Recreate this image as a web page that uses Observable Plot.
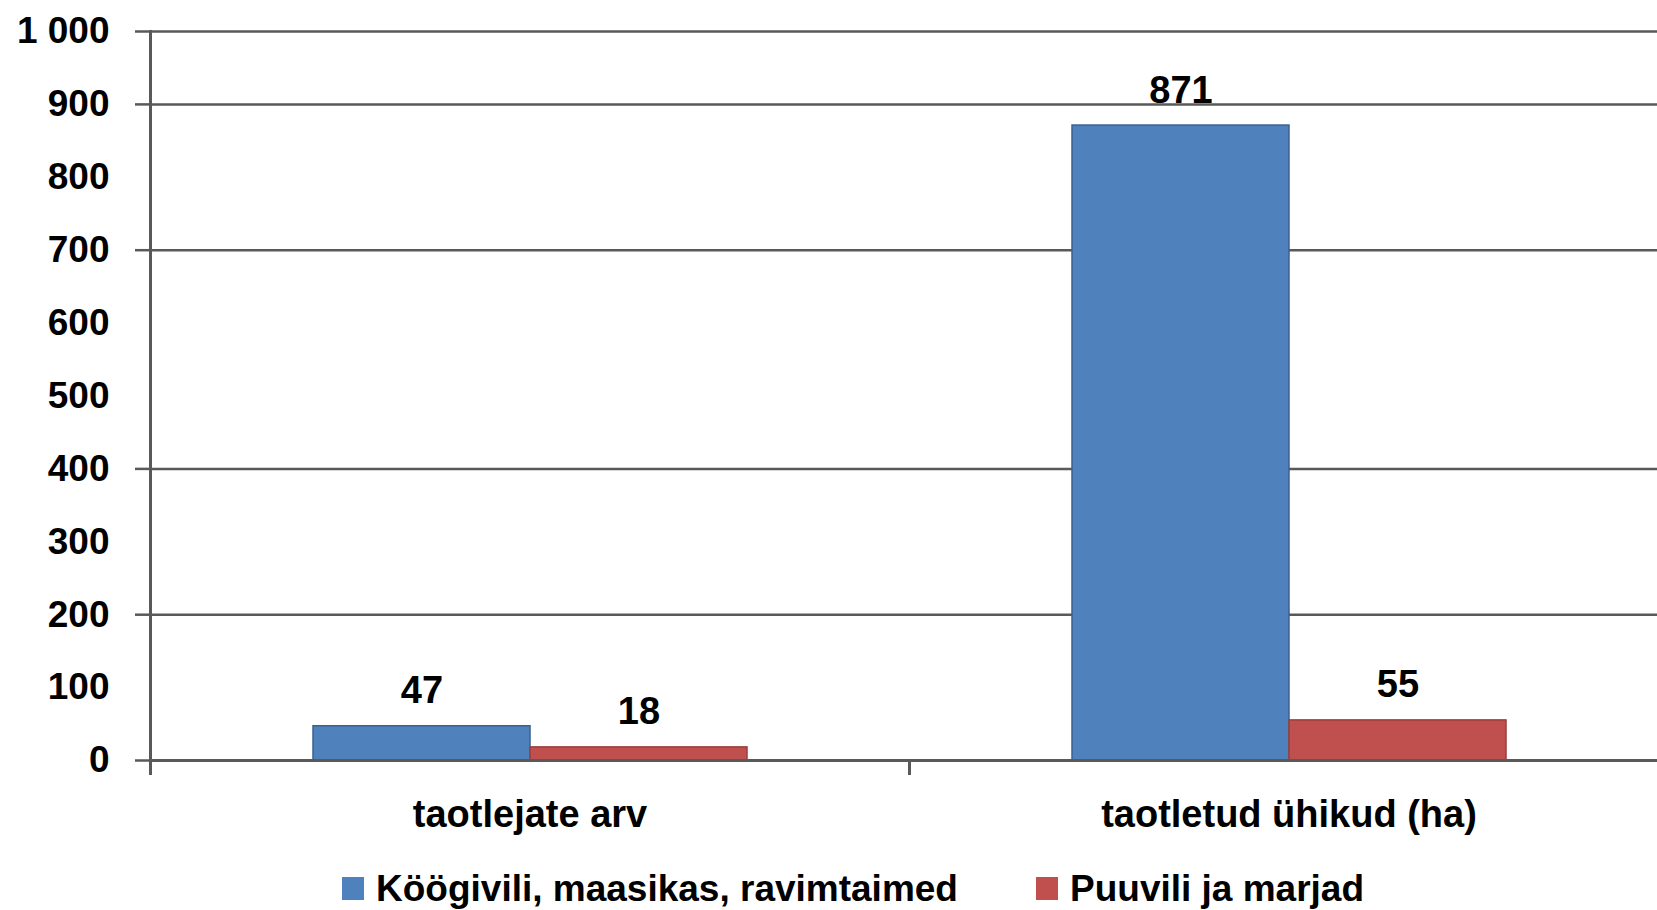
<!DOCTYPE html>
<html><head><meta charset="utf-8">
<script src="https://cdn.jsdelivr.net/npm/d3@7"></script>
<script src="https://cdn.jsdelivr.net/npm/@observablehq/plot@0.6"></script>
<style>
html,body{margin:0;padding:0;background:#fff;overflow:hidden;}
#chart svg{display:block;max-width:none !important;}
#legend{position:relative;height:55px;width:1657px;font-family:"Liberation Sans",Arial,sans-serif;font-weight:bold;font-size:37px;color:#000;}
.item{position:absolute;top:0;height:55px;}
.sw{position:absolute;left:0;top:22px;width:22px;height:23px;}
.lbl{position:absolute;left:34px;top:15px;line-height:37px;white-space:nowrap;}
</style></head><body>
<div id="chart"></div>
<div id="legend"></div>
<script>
// ---- data ----
const categories = ["taotlejate arv", "taotletud ühikud (ha)"];
const seriesNames = ["Köögivili, maasikas, ravimtaimed", "Puuvili ja marjad"];
const vegetableValues = [47, 871];
const fruitValues = [18, 55];
const seriesColors = ["#4F81BD", "#C0504D"];
const seriesStrokes = ["#3B6090", "#9B3E3C"];
const yTicks = [0, 100, 200, 300, 400, 500, 600, 700, 800, 900, 1000];
const yTickLabels = ["0", "100", "200", "300", "400", "500", "600", "700", "800", "900", "1 000"];
const gridValues = [0, 200, 400, 700, 900, 1000];

const seriesValues = [vegetableValues, fruitValues];
const rows = [];
categories.forEach((c, ci) => seriesNames.forEach((s, si) => rows.push({category: c, series: s, value: seriesValues[si][ci]})));

// ---- layout ----
const W = 1668, H = 855, mL = 150, mT = 31, mB = 95;
const gridColor = "#595959";
const font = '"Liberation Sans", Arial, sans-serif';

const plot = Plot.plot({
  width: W, height: H,
  marginLeft: mL, marginRight: 0, marginTop: mT, marginBottom: mB,
  style: {fontFamily: font, fontWeight: "bold", color: "#000", background: "#fff", maxWidth: "none"},
  fx: {domain: categories, padding: 0, label: null},
  x: {domain: seriesNames, paddingInner: 0, paddingOuter: 0.741, axis: null},
  y: {domain: [0, 1000], label: null},
  marks: [
    Plot.ruleY(gridValues.filter(v => v > 0), {stroke: gridColor, strokeWidth: 2.5}),
    ...seriesNames.map((s, i) => Plot.barY(rows.filter(r => r.series === s), {
      fx: "category", x: "series", y: "value",
      fill: seriesColors[i], stroke: seriesStrokes[i], strokeWidth: 1.5
    })),
    Plot.ruleY([0], {stroke: gridColor, strokeWidth: 3}),
    Plot.frame({anchor: "left", facetAnchor: "left", stroke: gridColor, strokeWidth: 3, insetBottom: -13}),
    Plot.frame({anchor: "left", stroke: gridColor, strokeWidth: 3, insetTop: H - mT - mB, insetBottom: -13}),
    Plot.axisY(gridValues, {tickSize: 15, text: null, stroke: gridColor, strokeWidth: 2.5}),
    Plot.axisY(yTicks, {tickSize: 0, tickPadding: 41, tickFormat: d => yTickLabels[yTicks.indexOf(d)], fontSize: 37, fill: "#000", label: null}),
    Plot.axisFx({anchor: "bottom", tickSize: 0, tickPadding: 40, fontSize: 38, fill: "#000", label: null}),
    Plot.text(rows, {
      fx: "category", x: "series", y: "value", text: d => String(d.value),
      lineAnchor: "bottom", dy: -23, fontSize: 38, fill: "#000"
    })
  ]
});
document.getElementById("chart").appendChild(plot);

// ---- legend ----
const legendLefts = [342, 1036];
const legend = document.getElementById("legend");
seriesNames.forEach((s, i) => {
  const item = document.createElement("div");
  item.className = "item";
  item.style.left = legendLefts[i] + "px";
  const sw = document.createElement("div");
  sw.className = "sw";
  sw.style.background = seriesColors[i];
  const lbl = document.createElement("div");
  lbl.className = "lbl";
  lbl.textContent = s;
  item.appendChild(sw); item.appendChild(lbl);
  legend.appendChild(item);
});
</script>
</body></html>
